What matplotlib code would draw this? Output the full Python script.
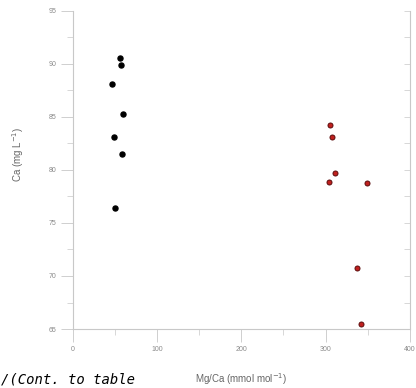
import matplotlib
matplotlib.use("Agg")
import matplotlib.pyplot as plt
from matplotlib.ticker import MultipleLocator

# Group 1 (black): Mg/Ca ratio and Ca concentration
mgca_black = [56, 57, 46, 60, 49, 58, 50]
ca_black = [90.6, 89.9, 88.1, 85.3, 83.1, 81.5, 76.4]

# Group 2 (red)
mgca_red = [305, 308, 311, 304, 349, 337, 342]
ca_red = [84.2, 83.1, 79.7, 78.9, 78.8, 70.8, 65.5]

x_ticks = [0, 100, 200, 300, 400]
y_ticks = [65, 70, 75, 80, 85, 90, 95]

plt.rcParams['font.family'] = ['Liberation Sans', 'DejaVu Sans']

fig = plt.figure(figsize=(4.16, 3.88), dpi=100)
ax = fig.add_axes([0.175, 0.152, 0.81, 0.82])

ax.scatter(mgca_black, ca_black, s=13, color='black', zorder=3)
ax.scatter(mgca_red, ca_red, s=13, color='#c0201e', edgecolor='#5a0c0c',
           linewidth=0.7, zorder=3)

ax.set_xlim(0, 400)
ax.set_ylim(65, 95)
ax.set_xticks(x_ticks)
ax.set_yticks(y_ticks)
ax.xaxis.set_minor_locator(MultipleLocator(50))
ax.yaxis.set_minor_locator(MultipleLocator(2.5))

grey = '#c8c8c8'
for side in ['left', 'bottom', 'right']:
    ax.spines[side].set_color(grey)
    ax.spines[side].set_linewidth(0.8)
ax.spines['top'].set_visible(False)

ax.tick_params(axis='both', which='major', length=9, width=0.6, color=grey,
               labelsize=5, labelcolor='#8a8a8a', pad=3)
ax.tick_params(axis='both', which='minor', length=4, width=0.5, color=grey)

# unlabelled inward ticks along the right spine
sec = ax.secondary_yaxis('right')
sec.set_yticks(y_ticks)
sec.yaxis.set_minor_locator(MultipleLocator(2.5))
sec.tick_params(which='both', direction='in', length=4, width=0.5,
                color=grey, labelright=False)
sec.spines['right'].set_visible(False)

ax.set_xlabel('Mg/Ca (mmol mol$^{-1}$)', fontsize=7, color='#666666', labelpad=13)
ax.set_ylabel('Ca (mg L$^{-1}$)', fontsize=7, color='#666666', labelpad=12)
ax.yaxis.set_label_coords(-0.14, 0.55)

fig.text(0.002, 0.004, '/(Cont. to table', family='DejaVu Sans Mono',
         style='italic', fontsize=10, color='black', va='bottom', ha='left')

fig.savefig('out.png', dpi=100)
